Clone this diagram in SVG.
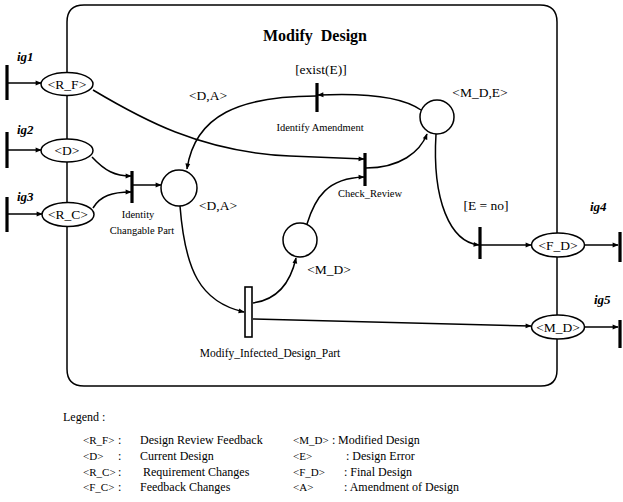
<svg xmlns="http://www.w3.org/2000/svg" width="623" height="502" viewBox="0 0 623 502">
<style>
text{font-family:"Liberation Serif","Times New Roman",serif;fill:#000}
.pl{fill:#fff;stroke:#000;stroke-width:1.5}
.lb{font-size:13.5px;text-anchor:middle}
.sm{font-size:10.5px;text-anchor:middle}
.ig{font-size:13px;font-weight:bold;font-style:italic}
.bar{stroke:#000;stroke-width:3.2;fill:none}
.ln{stroke:#000;stroke-width:1.5;fill:none}
.lg{font-size:12px}
.k{font-size:11px}
</style>
<defs>
<marker id="ah" viewBox="0 0 10 10" refX="9" refY="5" markerWidth="7" markerHeight="6" orient="auto" markerUnits="userSpaceOnUse">
<path d="M0,1 L10,5 L0,9 Z" fill="#000"/>
</marker>
</defs>
<rect width="623" height="502" fill="#fff"/>
<g id="frame" class="ln">
<path d="M67,72 L67,22 Q67,5 84,5 L540,5 Q557,5 557,22 L557,233"/>
<path d="M557,257 L557,315"/>
<path d="M557,339 L557,370 Q557,386 541,386 L84,386 Q67,386 67,369 L67,227"/>
<path d="M67,95 L67,139"/>
<path d="M67,162 L67,202"/>
</g>
<text x="315" y="41" style="font-size:16px;font-weight:bold;text-anchor:middle;word-spacing:4px">Modify Design</text>
<g id="connectors" class="ln">
<path d="M8,83 L41,83" marker-end="url(#ah)"/>
<path d="M8,150 L41,150" marker-end="url(#ah)"/>
<path d="M8,214 L42,214" marker-end="url(#ah)"/>
<path d="M92,157 C105,171 115,176 131,176" marker-end="url(#ah)"/>
<path d="M93,208 C100,196 112,192 131,192" marker-end="url(#ah)"/>
<path d="M133,185 L161,185" marker-end="url(#ah)"/>
<path d="M93,90 C140,118 200,152 290,156 L364,159" marker-end="url(#ah)"/>
<path d="M307,224 C315,198 327,178 364,177" marker-end="url(#ah)"/>
<path d="M366,168 C400,168 420,152 427,134" marker-end="url(#ah)"/>
<path d="M421,110 C400,95 360,93 318,95" marker-end="url(#ah)"/>
<path d="M316,96 C240,96 195,115 187,169" marker-end="url(#ah)"/>
<path d="M180,206 C185,270 200,302 244,312" marker-end="url(#ah)"/>
<path d="M253,303 C275,300 290,285 296,258" marker-end="url(#ah)"/>
<path d="M253,319 L531,326" marker-end="url(#ah)"/>
<path d="M436,134 C432,200 450,242 479,245" marker-end="url(#ah)"/>
<path d="M481,245 L531,245" marker-end="url(#ah)"/>
<path d="M585,245 L618,245" marker-end="url(#ah)"/>
<path d="M585,327 L618,327" marker-end="url(#ah)"/>
</g>
<g id="ig1"><path class="bar" d="M7,65 L7,100"/><text class="ig" x="17" y="61">ig1</text></g>
<g id="ig2"><path class="bar" d="M7,132 L7,168"/><text class="ig" x="17" y="134">ig2</text></g>
<g id="ig3"><path class="bar" d="M7,197 L7,232"/><text class="ig" x="17" y="201">ig3</text></g>
<g id="ig4"><path class="bar" d="M620,232 L620,262"/><text class="ig" x="590" y="211">ig4</text></g>
<g id="ig5"><path class="bar" d="M620,320 L620,348"/><text class="ig" x="594" y="304">ig5</text></g>
<g id="R_F"><ellipse class="pl" cx="67" cy="84" rx="26" ry="11.5"/><text class="lb" x="67" y="88.5">&lt;R_F&gt;</text></g>
<g id="D"><ellipse class="pl" cx="67" cy="150.5" rx="26" ry="11.5"/><text class="lb" x="67" y="155">&lt;D&gt;</text></g>
<g id="R_C"><ellipse class="pl" cx="68" cy="214.5" rx="26" ry="12"/><text class="lb" x="68" y="219">&lt;R_C&gt;</text></g>
<g id="F_D"><ellipse class="pl" cx="558" cy="245" rx="26.5" ry="12"/><text class="lb" x="558" y="249.5">&lt;F_D&gt;</text></g>
<g id="M_D"><ellipse class="pl" cx="558" cy="327" rx="26.5" ry="12"/><text class="lb" x="558" y="331.5">&lt;M_D&gt;</text></g>
<g id="identity"><path class="bar" d="M132,171 L132,203"/><text class="sm" x="138" y="218">Identity</text><text class="sm" x="142" y="234">Changable Part</text></g>
<g id="place_DA"><circle class="pl" cx="179" cy="188" r="18"/><text class="lb" x="218" y="210">&lt;D,A&gt;</text></g>
<g id="identify_amendment"><path class="bar" d="M317,83 L317,112"/><text class="lb" x="321" y="74">[exist(E)]</text><text class="sm" x="320" y="131">Identify Amendment</text></g>
<text class="lb" x="208" y="100">&lt;D,A&gt;</text>
<g id="place_MDE"><circle class="pl" cx="437" cy="117" r="17"/><text class="lb" x="480" y="97">&lt;M_D,E&gt;</text></g>
<g id="check_review"><path class="bar" d="M365,153 L365,186"/><text class="sm" x="370" y="197">Check_Review</text></g>
<g id="place_MD"><circle class="pl" cx="300" cy="240" r="17"/><text class="lb" x="329" y="274">&lt;M_D&gt;</text></g>
<g id="modify_infected"><rect x="245" y="287" width="7" height="50" fill="#fff" stroke="#000" stroke-width="1.6"/><text class="sm" x="270" y="357" style="font-size:11.5px">Modify_Infected_Design_Part</text></g>
<g id="e_no"><path class="bar" d="M480,227 L480,259"/><text class="lb" x="486" y="210">[E = no]</text></g>
<g id="legend" class="lg">
<text x="63" y="421">Legend :</text>
<text class="k" x="83" y="444">&lt;R_F&gt;</text><text x="118" y="444">:</text><text x="140" y="444">Design Review Feedback</text>
<text class="k" x="83" y="460">&lt;D&gt;</text><text x="118" y="460">:</text><text x="140" y="460">Current Design</text>
<text class="k" x="83" y="476">&lt;R_C&gt;</text><text x="118" y="476">:</text><text x="143" y="476">Requirement Changes</text>
<text class="k" x="83" y="491">&lt;F_C&gt;</text><text x="118" y="491">:</text><text x="140" y="491">Feedback Changes</text>
<text class="k" x="293" y="444">&lt;M_D&gt;</text><text x="332" y="444">:</text><text x="338" y="444">Modified Design</text>
<text class="k" x="293" y="460">&lt;E&gt;</text><text x="346" y="460">: Design Error</text>
<text class="k" x="293" y="476">&lt;F_D&gt;</text><text x="344" y="476">: Final Design</text>
<text class="k" x="293" y="491">&lt;A&gt;</text><text x="344" y="491">: Amendment of Design</text>
</g>
</svg>
